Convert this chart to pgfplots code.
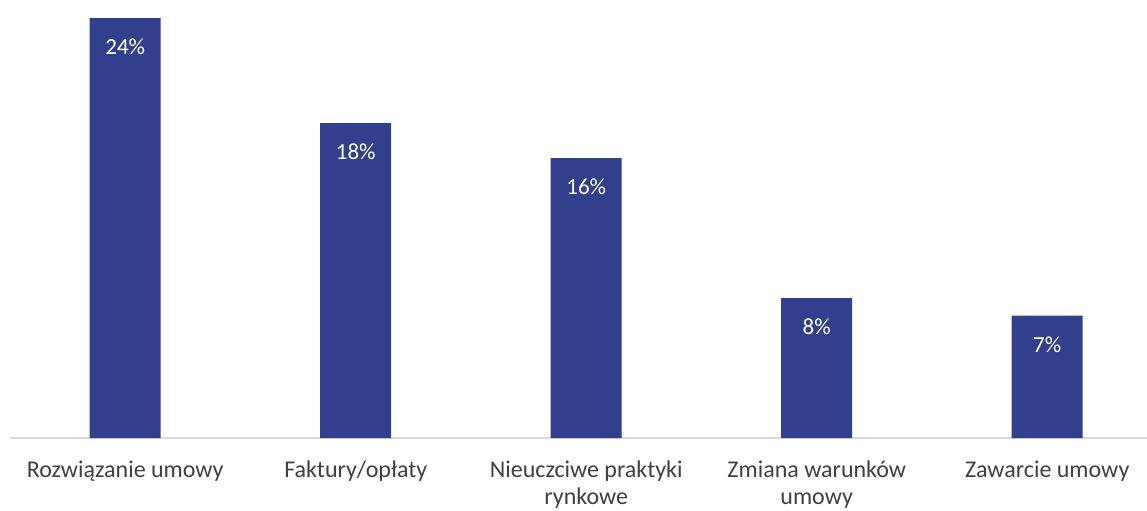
\documentclass[border=0pt]{standalone}
\usepackage{pgfplots}
\pgfplotsset{compat=1.18}
\usepackage{fontspec}
\setmainfont{Carlito}
\definecolor{barblue}{RGB}{50,63,140}
\definecolor{txtgray}{RGB}{64,64,64}
\definecolor{axgray}{RGB}{217,217,217}
\begin{document}
\begin{tikzpicture}
\useasboundingbox (-10bp,-73bp) rectangle (1137bp,438bp);
\begin{axis}[
  scale only axis,
  width=1137bp, height=438bp,
  xmin=-0.5, xmax=4.433,
  ymin=0, ymax=25.03,
  axis y line=none,
  axis x line*=bottom,
  x axis line style={draw=axgray, line width=1.2bp, -},
  ybar, bar width=71bp,
  xtick=data,
  xticklabels={Rozwiązanie umowy, Faktury/opłaty, Nieuczciwe praktyki\\rynkowe, Zmiana warunków\\umowy, Zawarcie umowy},
  xtick style={draw=none},
  xticklabel style={align=center, text=txtgray, font=\fontsize{24bp}{27bp}\selectfont, anchor=north, yshift=-15bp},
  clip=false,
  /pgf/number format/assume math mode=true,
  nodes near coords={\pgfmathprintnumber{\pgfplotspointmeta}\%},
  every node near coord/.append style={text=white, font=\fontsize{23bp}{26bp}\selectfont, anchor=center, yshift=-29bp},
]
\addplot[fill=barblue, draw=none] coordinates {(0,24) (1,18) (2,16) (3,8) (4,7)};
\end{axis}
\end{tikzpicture}
\end{document}
